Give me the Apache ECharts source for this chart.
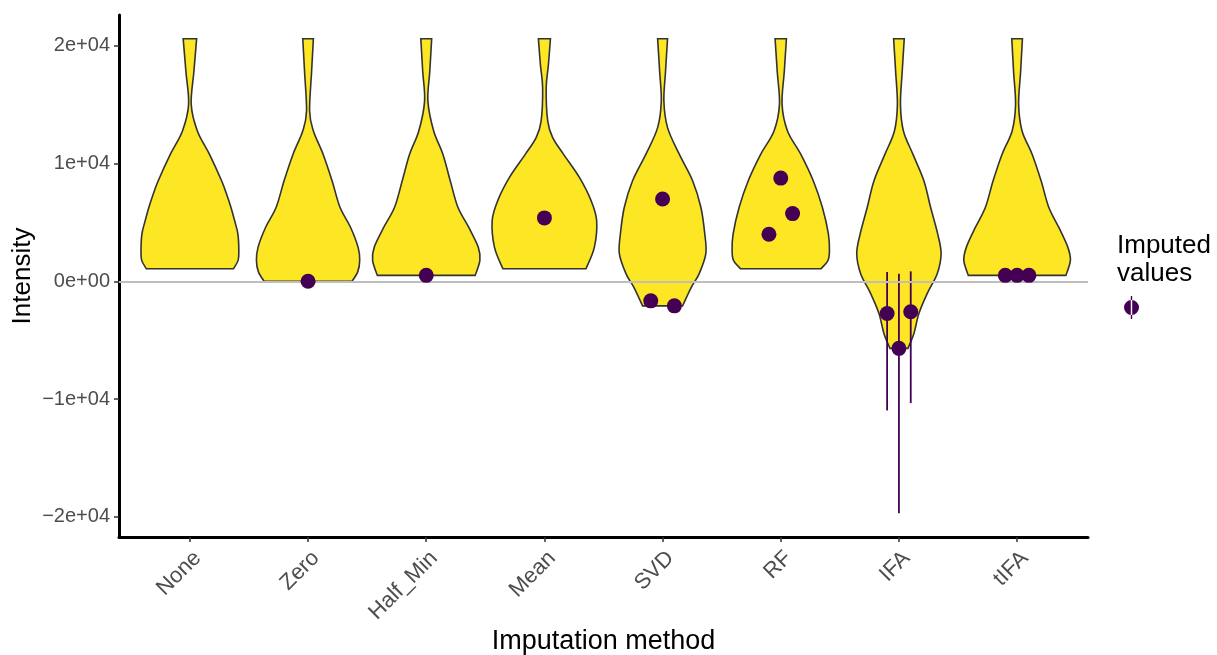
<!DOCTYPE html>
<html>
<head>
<meta charset="utf-8">
<script src="https://cdn.jsdelivr.net/npm/echarts@6/dist/echarts.min.js"></script>
<style>
  html, body { margin: 0; padding: 0; background: #ffffff; }
  #chart { width: 1217px; height: 655px; }
</style>
</head>
<body>
<div id="chart"></div>
<script>
// Imputation methods along the x axis
const methods = ['None', 'Zero', 'Half_Min', 'Mean', 'SVD', 'RF', 'IFA', 'tIFA'];

// Violin outlines, top to bottom: [intensity, half-width as a fraction of the category spacing]
const violinNone = [[20590, 0.057], [17830, 0.034], [15015, 0.011], [12760, 0.063], [10790, 0.165], [8535, 0.268], [7410, 0.31], [6280, 0.347], [5155, 0.378], [4030, 0.406], [2620, 0.414], [1775, 0.408], [1070, 0.369]];
const violinZero = [[20590, 0.045], [17830, 0.030], [14450, 0.013], [12760, 0.045], [10790, 0.127], [8535, 0.203], [6280, 0.270], [4590, 0.359], [2900, 0.423], [1775, 0.437], [800, 0.42], [0, 0.372]];
const violinHalfMin = [[20590, 0.046], [17830, 0.030], [15295, 0.014], [12760, 0.063], [10790, 0.141], [8535, 0.203], [6280, 0.268], [4590, 0.359], [2900, 0.440], [1775, 0.454], [507, 0.414]];
const violinMean = [[20590, 0.051], [18400, 0.034], [16420, 0.015], [13600, 0.028], [12190, 0.07], [10790, 0.161], [8815, 0.296], [6845, 0.395], [5155, 0.442], [2900, 0.423], [1070, 0.352]];
const violinSVD = [[20590, 0.042], [17830, 0.025], [15295, 0.011], [13040, 0.042], [10790, 0.141], [8535, 0.254], [6280, 0.324], [4030, 0.357], [2340, 0.366], [650, 0.310], [-480, 0.245], [-2085, 0.169]];
const violinRF = [[20590, 0.048], [17830, 0.030], [15015, 0.011], [12760, 0.057], [10790, 0.169], [8535, 0.275], [6280, 0.352], [4030, 0.403], [2620, 0.412], [1775, 0.40], [1070, 0.341]];
const violinIFA = [[20590, 0.045], [17830, 0.028], [15015, 0.013], [12760, 0.038], [10790, 0.118], [8535, 0.211], [6280, 0.268], [4030, 0.328], [2340, 0.357], [650, 0.324], [-1040, 0.239], [-2730, 0.169], [-4420, 0.127], [-5690, 0.076]];
const violinTIFA = [[20590, 0.045], [17830, 0.030], [15015, 0.013], [12760, 0.042], [10790, 0.127], [8535, 0.203], [6280, 0.268], [4590, 0.352], [2900, 0.429], [1775, 0.451], [507, 0.413]];
const violins = [violinNone, violinZero, violinHalfMin, violinMean, violinSVD, violinRF, violinIFA, violinTIFA];

// Imputed values: method index, dodge slot, value and uncertainty range
const pointMethod = [1, 2, 3, 4, 4, 4, 5, 5, 5, 6, 6, 6, 7, 7, 7];
const pointSlot   = [0, 0, 0, 0, -1, 1, 0, 1, -1, -1, 0, 1, -1, 0, 1];
const pointValue  = [0, 507, 5380, 6990, -1660, -2085, 8760, 5745, 3995, -2730, -5690, -2590, 507, 507, 507];
const pointLow    = [null, null, null, null, null, null, null, null, null, -10960, -19690, -10340, null, null, null];
const pointHigh   = [null, null, null, null, null, null, null, null, null, 790, 650, 845, null, null, null];

// Y axis ticks
const yTickValues = [-20000, -10000, 0, 10000, 20000];
const yTickLabels = ['\u22122e+04', '\u22121e+04', '0e+00', '1e+04', '2e+04'];

const FONT = '"Liberation Sans", Arial, Helvetica, sans-serif';
const DODGE = 0.1;
const PURPLE = '#440154';
const YELLOW = '#FDE725';

// Smooth curve (Catmull-Rom as cubic Bezier) through a list of pixel points
function smoothThrough(pts) {
  let s = '';
  for (let i = 0; i < pts.length - 1; i++) {
    const p0 = pts[Math.max(i - 1, 0)];
    const p1 = pts[i];
    const p2 = pts[i + 1];
    const p3 = pts[Math.min(i + 2, pts.length - 1)];
    const c1 = [p1[0] + (p2[0] - p0[0]) / 6, p1[1] + (p2[1] - p0[1]) / 6];
    const c2 = [p2[0] - (p3[0] - p1[0]) / 6, p2[1] - (p3[1] - p1[1]) / 6];
    s += 'C' + c1[0] + ',' + c1[1] + ',' + c2[0] + ',' + c2[1] + ',' + p2[0] + ',' + p2[1];
  }
  return s;
}

function renderViolin(params, api) {
  const idx = api.value(0);
  const prof = violins[idx];
  const right = prof.map(function (p) {
    const c = api.coord([idx, p[0]]);
    const hw = api.size([p[1], 0])[0];
    return [c[0] + hw, c[1]];
  });
  const left = prof.map(function (p) {
    const c = api.coord([idx, p[0]]);
    const hw = api.size([p[1], 0])[0];
    return [c[0] - hw, c[1]];
  }).reverse();
  const d = 'M' + right[0][0] + ',' + right[0][1] + smoothThrough(right) +
    'L' + left[0][0] + ',' + left[0][1] + smoothThrough(left) + 'Z';
  return {
    type: 'path',
    shape: { pathData: d },
    style: { fill: YELLOW, stroke: '#333333', lineWidth: 1.6 }
  };
}

function renderRange(params, api) {
  const x = api.value(0);
  const a = api.coord([x, api.value(1)]);
  const b = api.coord([x, api.value(2)]);
  return {
    type: 'line',
    shape: { x1: a[0], y1: a[1], x2: b[0], y2: b[1] },
    style: { stroke: PURPLE, lineWidth: 1.8 }
  };
}

const violinData = methods.map(function (m, i) { return [i, 0]; });
const pointData = pointValue.map(function (v, i) {
  return [pointMethod[i] + pointSlot[i] * DODGE, v];
});
const rangeData = [];
pointValue.forEach(function (v, i) {
  if (pointLow[i] !== null) {
    rangeData.push([pointMethod[i] + pointSlot[i] * DODGE, pointLow[i], pointHigh[i]]);
  }
});

const chart = echarts.init(document.getElementById('chart'), null, { renderer: 'canvas' });

chart.setOption({
  animation: false,
  backgroundColor: '#ffffff',
  textStyle: { fontFamily: FONT },
  grid: { left: 119, right: 129, top: 15, bottom: 118, containLabel: false, outerBoundsMode: 'none' },
  xAxis: {
    type: 'value',
    min: -0.6,
    max: 7.6,
    name: 'Imputation method',
    nameLocation: 'middle',
    nameGap: 91,
    nameMoveOverlap: false,
    nameTextStyle: { fontFamily: FONT, fontSize: 27, color: '#000000' },
    axisLine: { show: true, onZero: false, lineStyle: { color: '#000000', width: 3 } },
    axisTick: { show: true, length: 5, customValues: methods.map(function (m, i) { return i; }), lineStyle: { color: '#333333', width: 1.5 } },
    axisLabel: {
      show: true,
      customValues: methods.map(function (m, i) { return i; }),
      formatter: function (v) { return methods[Math.round(v)]; },
      rotate: 45,
      align: 'right',
      verticalAlign: 'top',
      margin: 10,
      fontFamily: FONT,
      fontSize: 22,
      color: '#4D4D4D'
    },
    splitLine: { show: false }
  },
  yAxis: {
    type: 'value',
    min: -21700,
    max: 22600,
    name: 'Intensity',
    nameLocation: 'middle',
    nameRotate: 90,
    nameGap: 83,
    nameMoveOverlap: false,
    nameTextStyle: { fontFamily: FONT, fontSize: 26, color: '#000000' },
    axisLine: { show: true, onZero: false, lineStyle: { color: '#000000', width: 3 } },
    axisTick: { show: true, length: 5, customValues: yTickValues, lineStyle: { color: '#333333', width: 1.5 } },
    axisLabel: {
      show: true,
      customValues: yTickValues,
      formatter: function (v) { return yTickLabels[yTickValues.indexOf(v)]; },
      margin: 9,
      fontFamily: FONT,
      fontSize: 20,
      color: '#4D4D4D'
    },
    splitLine: { show: false }
  },
  legend: {
    data: [{
      name: 'Imputed values',
      icon: 'path://M6.8,0H8.2V23H6.8Z M0,11.5A7.5,7.5,0,1,0,15,11.5A7.5,7.5,0,1,0,0,11.5Z'
    }],
    left: 1124,
    top: 296,
    padding: 0,
    itemWidth: 15,
    itemHeight: 23,
    selectedMode: false,
    formatter: function () { return ''; }
  },
  graphic: [{
    type: 'text',
    left: 1117,
    top: 232,
    silent: true,
    style: {
      text: 'Imputed\nvalues',
      fontFamily: FONT,
      fontSize: 26,
      lineHeight: 28,
      fill: '#000000'
    }
  }],
  series: [
    {
      type: 'custom',
      name: 'violin',
      z: 2,
      silent: true,
      encode: { x: 0, y: 1 },
      data: violinData,
      renderItem: renderViolin
    },
    {
      type: 'line',
      name: 'zero',
      z: 3,
      data: [],
      silent: true,
      markLine: {
        silent: true,
        symbol: ['none', 'none'],
        label: { show: false },
        lineStyle: { color: '#BEBEBE', width: 1.8, type: 'solid' },
        data: [{ yAxis: 0 }]
      }
    },
    {
      type: 'custom',
      name: 'range',
      z: 4,
      silent: true,
      encode: { x: 0, y: [1, 2] },
      data: rangeData,
      renderItem: renderRange
    },
    {
      type: 'scatter',
      name: 'Imputed values',
      z: 5,
      symbol: 'circle',
      symbolSize: 15,
      itemStyle: { color: PURPLE, opacity: 1 },
      data: pointData
    }
  ]
});
</script>
</body>
</html>
